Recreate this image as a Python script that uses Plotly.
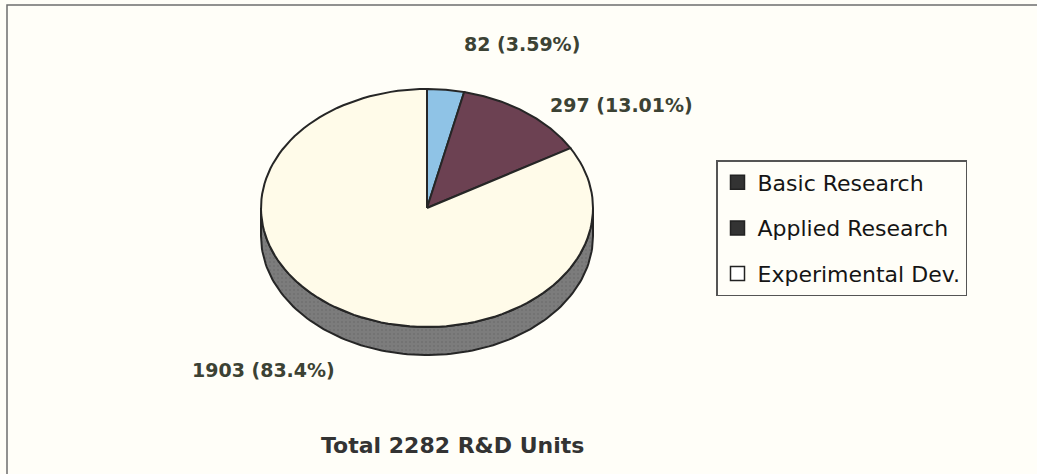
import numpy as np
import plotly.graph_objects as go

# R&D units by type of activity
categories = ["Basic Research", "Applied Research", "Experimental Dev."]
units = [82, 297, 1903]
pct_text = ["3.59%", "13.01%", "83.4%"]

# styling
top_colors = ["#8fc3e6", "#6c4152", "#fffbe9"]
side_color = "#7c7c7c"
edge_color = "#262626"
legend_colors = ["#333333", "#333333", "#ffffff"]
bg = "#fffef8"
label_color = "#3c4234"

W, H = 1037, 474
CX, CY = 427, 208          # centre of the pie top
RX, RY = 166, 119          # tilted (elliptical) radii
DEPTH = 28                 # thickness of the pie

total = sum(units)
fracs = np.array(units) / total
ends = np.cumsum(fracs) * 360.0
starts = ends - fracs * 360.0


def rim(a0, a1, n=120):
    t = np.radians(np.linspace(a0, a1, n))
    return CX + RX * np.sin(t), CY - RY * np.cos(t)


fig = go.Figure()

# visible side wall (front half of the disc)
for s, e in zip(starts, ends):
    lo, hi = max(s, 90.0), min(e, 270.0)
    if hi <= lo:
        continue
    xs, ys = rim(lo, hi)
    fig.add_trace(go.Scatter(
        x=np.concatenate([xs, xs[::-1], xs[:1]]),
        y=np.concatenate([ys, ys[::-1] + DEPTH, ys[:1]]),
        mode="lines", fill="toself", fillcolor=side_color,
        fillpattern=dict(shape=".", fgcolor="#6a6a6a", bgcolor=side_color,
                         size=4, solidity=0.3),
        line=dict(color=edge_color, width=2),
        hoverinfo="skip", showlegend=False))

# top faces of the slices
for name, s, e, col in zip(categories, starts, ends, top_colors):
    xs, ys = rim(s, e)
    fig.add_trace(go.Scatter(
        x=np.concatenate([[CX], xs, [CX]]),
        y=np.concatenate([[CY], ys, [CY]]),
        mode="lines", fill="toself", fillcolor=col,
        line=dict(color=edge_color, width=2),
        name=name, hoverinfo="name", showlegend=False))

# legend entries
for i, (name, col) in enumerate(zip(categories, legend_colors)):
    fig.add_trace(go.Scatter(
        x=[None], y=[None], mode="markers", name=name, legendgroup=str(i),
        marker=dict(symbol="square", size=14, color=col,
                    line=dict(color="#222222", width=1.5))))

# value labels
label_pos = [(522, 44), (621, 105), (263, 370)]
for (lx, ly), v, p in zip(label_pos, units, pct_text):
    fig.add_annotation(x=lx, y=ly, text=f"<b>{v} ({p})</b>", showarrow=False,
                       font=dict(family="DejaVu Sans", size=19, color=label_color))

fig.add_annotation(x=452, y=445, text=f"<b>Total {total} R&amp;D Units</b>",
                   showarrow=False,
                   font=dict(family="DejaVu Sans", size=22, color="#333333"))

# chart frame
fig.add_shape(type="rect", x0=7, y0=5, x1=W + 10, y1=H + 10,
              line=dict(color="#6e6e6e", width=1.5), layer="above")

fig.update_layout(
    width=W, height=H,
    margin=dict(l=0, r=0, t=0, b=0),
    paper_bgcolor=bg, plot_bgcolor=bg,
    xaxis=dict(range=[0, W], visible=False, fixedrange=True),
    yaxis=dict(range=[H, 0], visible=False, fixedrange=True),
    legend=dict(x=716 / W, y=1 - 160 / H, xanchor="left", yanchor="top",
                bgcolor=bg, bordercolor="#555555", borderwidth=1.5,
                font=dict(family="DejaVu Sans", size=22, color="#151515"),
                tracegroupgap=14, itemwidth=30),
)

fig.write_html("out.html")
